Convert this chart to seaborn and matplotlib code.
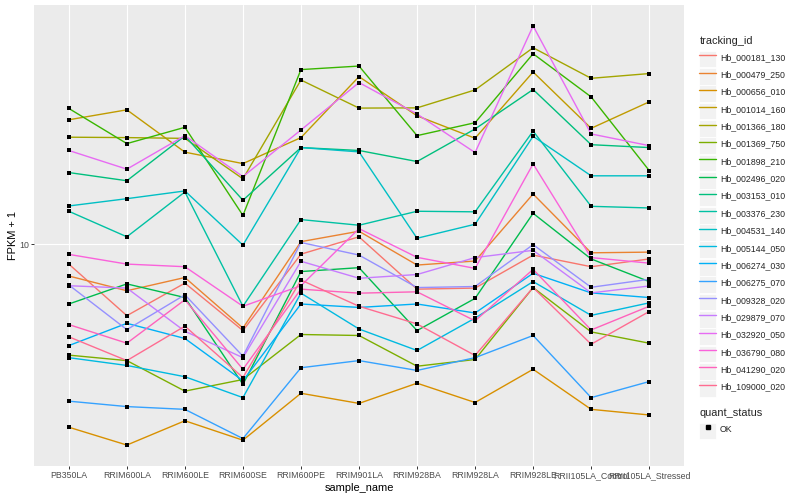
import numpy as np
import pandas as pd
import matplotlib
matplotlib.use("Agg")
import matplotlib.pyplot as plt
import seaborn as sns
from matplotlib.lines import Line2D
from matplotlib.patches import Rectangle
from matplotlib.legend_handler import HandlerTuple, HandlerPatch
from matplotlib.ticker import NullLocator

# ============================================================
# Données (FPKM + 1)
# ============================================================
samples = ["PB350LA", "RRIM600LA", "RRIM600LE", "RRIM600SE", "RRIM600PE",
           "RRIM901LA", "RRIM928BA", "RRIM928LA", "RRIM928LE",
           "RRII105LA_Control", "RRII105LA_Stressed"]

track_ids = ["Hb_000181_130", "Hb_000479_250", "Hb_000656_010", "Hb_001014_160",
             "Hb_001366_180", "Hb_001369_750", "Hb_001898_210", "Hb_002496_020",
             "Hb_003153_010", "Hb_003376_230", "Hb_004531_140", "Hb_005144_050",
             "Hb_006274_030", "Hb_006275_070", "Hb_009328_020", "Hb_029879_070",
             "Hb_032920_050", "Hb_036790_080", "Hb_041290_020", "Hb_109000_020"]

hb_000181_130 = [9.13, 7.19, 8.36, 6.71, 9.56, 10.36, 8.13, 8.17, 9.52, 9.02, 9.35]
hb_000479_250 = [8.64, 8.07, 8.58, 6.79, 10.13, 10.63, 9.09, 9.26, 12.63, 9.62, 9.65]
hb_000656_010 = [4.29, 3.95, 4.42, 4.04, 5.02, 4.79, 5.26, 4.81, 5.61, 4.66, 4.54]
hb_001014_160 = [17.81, 18.65, 15.33, 14.54, 16.40, 21.75, 18.14, 16.35, 22.22, 17.12, 19.35]
hb_001366_180 = [16.43, 16.40, 16.34, 13.55, 21.41, 18.80, 18.82, 20.45, 24.86, 21.58, 22.06]
hb_001369_750 = [5.99, 5.84, 5.07, 5.35, 6.59, 6.56, 5.69, 5.87, 8.19, 6.67, 6.33]
hb_001898_210 = [18.77, 15.95, 17.20, 11.44, 22.47, 22.84, 16.55, 17.57, 24.18, 19.80, 14.08]
hb_002496_020 = [7.59, 8.33, 7.82, 5.23, 8.82, 8.98, 6.71, 7.79, 11.55, 9.35, 8.42]
hb_003153_010 = [13.95, 13.43, 16.53, 12.27, 15.66, 15.45, 14.68, 17.07, 20.49, 15.87, 15.66]
hb_003376_230 = [11.66, 10.36, 12.75, 7.51, 11.22, 10.93, 11.66, 11.63, 16.90, 11.93, 11.84]
hb_004531_140 = [11.95, 12.36, 12.81, 9.97, 15.66, 15.35, 10.29, 10.98, 16.50, 13.74, 13.74]
hb_005144_050 = [5.92, 5.71, 5.42, 4.92, 7.98, 6.76, 6.12, 7.11, 8.42, 7.20, 7.63]
hb_006274_030 = [6.26, 6.94, 6.47, 5.32, 7.59, 7.47, 7.59, 7.28, 8.75, 7.99, 7.82]
hb_006275_070 = [4.84, 4.72, 4.66, 4.07, 5.65, 5.84, 5.58, 5.92, 6.56, 4.92, 5.30]
hb_009328_020 = [8.29, 6.74, 7.92, 5.96, 10.09, 9.52, 8.19, 8.23, 9.99, 8.20, 8.51]
hb_029879_070 = [8.26, 8.17, 6.69, 5.92, 9.25, 8.55, 8.70, 9.41, 9.73, 7.99, 8.25]
hb_032920_050 = [15.45, 14.17, 16.55, 13.69, 16.99, 21.16, 18.29, 15.30, 27.50, 16.68, 15.80]
hb_036790_080 = [9.55, 9.13, 9.02, 7.51, 8.26, 10.76, 9.42, 8.95, 14.52, 9.41, 9.17]
hb_041290_020 = [6.90, 6.33, 7.74, 5.61, 8.13, 7.98, 8.03, 7.02, 8.91, 6.73, 7.51]
hb_109000_020 = [6.52, 5.84, 6.85, 5.40, 8.48, 7.51, 6.92, 5.98, 8.19, 6.30, 7.33]

series = [hb_000181_130, hb_000479_250, hb_000656_010, hb_001014_160,
          hb_001366_180, hb_001369_750, hb_001898_210, hb_002496_020,
          hb_003153_010, hb_003376_230, hb_004531_140, hb_005144_050,
          hb_006274_030, hb_006275_070, hb_009328_020, hb_029879_070,
          hb_032920_050, hb_036790_080, hb_041290_020, hb_109000_020]

# palette ggplot (hue_pal, 20 niveaux)
palette = ["#F8766D", "#EA8331", "#D89000", "#C09B00", "#A3A500", "#7CAE00",
           "#39B600", "#00BB4E", "#00BF7D", "#00C1A3", "#00BFC4", "#00BAE0",
           "#00B0F6", "#35A2FF", "#9590FF", "#C77CFF", "#E76BF3", "#FA62DB",
           "#FF62BC", "#FF6C91"]

rows = []
for tid, vals in zip(track_ids, series):
    for s, v in zip(samples, vals):
        rows.append({"tracking_id": tid, "sample_name": s, "fpkm": v,
                     "quant_status": "OK"})
df = pd.DataFrame(rows)

# ============================================================
# Style façon ggplot2
# ============================================================
sns.set_style("darkgrid", {"axes.facecolor": "#EBEBEB", "grid.color": "white"})
plt.rcParams["font.family"] = ["Liberation Sans", "DejaVu Sans"]

fig = plt.figure(figsize=(8, 5), dpi=100)
ax = fig.add_axes([34 / 800, 34 / 500, 650 / 800, 461 / 500])

sns.lineplot(data=df, x="sample_name", y="fpkm", hue="tracking_id",
             hue_order=track_ids, palette=palette, sort=False,
             errorbar=None, legend=False, lw=1.0, ax=ax)
sns.scatterplot(data=df, x="sample_name", y="fpkm", color="black",
                marker="s", s=6, linewidth=0, legend=False, ax=ax, zorder=5)

ax.set_yscale("log")
lo, hi = np.log10(df["fpkm"].min()), np.log10(df["fpkm"].max())
pad = 0.05 * (hi - lo)
ax.set_ylim(10 ** (lo - pad), 10 ** (hi + pad))
ax.set_yticks([10], labels=["10"])
ax.yaxis.set_minor_locator(NullLocator())
ax.set_xlim(-0.6, len(samples) - 0.4)

ax.grid(True, which="major", color="white", lw=0.8)
for sp in ax.spines.values():
    sp.set_visible(False)
ax.tick_params(axis="both", which="major", labelsize=6.3, labelcolor="#4D4D4D",
               color="#333333", length=2, width=0.7, pad=1.6,
               bottom=True, left=True)
ax.set_xlabel("sample_name", fontsize=7.9, color="black", labelpad=2)
ax.set_ylabel("FPKM + 1", fontsize=7.9, color="black", labelpad=1)

# ============================================================
# Légendes (clés carrées grises comme ggplot)
# ============================================================
def square_key(legend, orig_handle, xdescent, ydescent, width, height, fontsize):
    cy = (height - ydescent) / 2 - ydescent
    side = width * 0.98
    return Rectangle((-xdescent, cy - side / 2), width, side)

key_bg = dict(facecolor="#F2F2F2", edgecolor="white", lw=0.6)
leg_kw = dict(loc="upper left", frameon=False, fontsize=6.3, title_fontsize=7.9,
              handlelength=1.95, handleheight=1.95, labelspacing=0.47,
              handletextpad=0.4, borderpad=0, alignment="left",
              handler_map={tuple: HandlerTuple(ndivide=1, pad=0),
                           Rectangle: HandlerPatch(patch_func=square_key)})

h1 = [(Rectangle((0, 0), 1, 1, **key_bg), Line2D([], [], color=c, lw=1.0))
      for c in palette]
fig.legend(h1, track_ids, title="tracking_id",
           bbox_to_anchor=(695 / 800, 1 - 32 / 500), **leg_kw)

h2 = [(Rectangle((0, 0), 1, 1, **key_bg),
       Line2D([], [], color="black", marker="s", ls="none", markersize=2.4))]
fig.legend(h2, ["OK"], title="quant_status",
           bbox_to_anchor=(695 / 800, 1 - 404 / 500), **leg_kw)

fig.savefig("out.png", dpi=100)
